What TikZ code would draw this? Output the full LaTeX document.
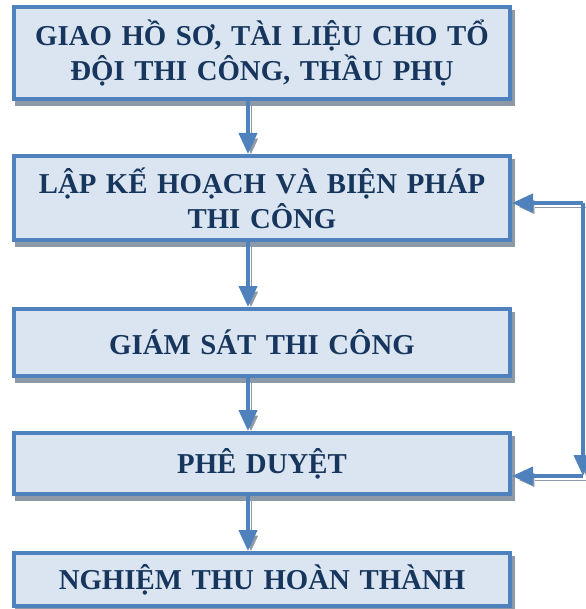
\documentclass[tikz,border=0pt]{standalone}
\usepackage{fontspec}
\setmainfont{Liberation Serif}
\usepackage{xcolor}
\usetikzlibrary{arrows.meta,shadows,calc}
\definecolor{boxblue}{HTML}{4F81BD}
\definecolor{boxfill}{HTML}{DBE5F1}
\definecolor{textblue}{HTML}{17365D}
\definecolor{shadowgray}{HTML}{8E99A8}

\begin{document}
\begin{tikzpicture}[x=0.5pt, y=-0.5pt, task node/.style={rectangle, draw=boxblue, fill=boxfill, line width=2pt, minimum width=248pt, text width=240pt, align=center, text=textblue, font=\bfseries\fontsize{14.4pt}{17.5pt}\selectfont, drop shadow={shadow xshift=1.5pt, shadow yshift=-2.5pt, fill=shadowgray, draw=shadowgray, line width=2pt, opacity=1}}, flow/.style={draw=boxblue, line width=2pt, -{Triangle[width=9pt, length=10.5pt]}, preaction={draw=shadowgray, transform canvas={xshift=1.5pt, yshift=-2pt}}}]
\useasboundingbox (0,0) rectangle (585,609);
\node[task node, minimum height=46pt] (1) at (262,53) {GIAO HỒ SƠ, TÀI LIỆU CHO TỔ\\ĐỘI THI CÔNG, THẦU PHỤ};
\node[task node, minimum height=42pt] (2) at (262,198) {LẬP KẾ HOẠCH VÀ BIỆN PHÁP\\THI CÔNG};
\node[task node, minimum height=33.5pt] (3) at (262,342.5) {GIÁM SÁT THI CÔNG};
\node[task node, minimum height=30.5pt] (4) at (262,463.5) {PHÊ DUYỆT};
\node[task node, minimum height=26.5pt] (5) at (262,579.5) {NGHIỆM THU HOÀN THÀNH};
\coordinate (a) at (248,0);
\coordinate (r1) at (583,203);
\coordinate (r2) at (583,476);
\foreach \i/\j in {1/2,2/3,3/4,4/5}
  \draw[flow] (\i.south -| a) -- (\j.north -| a);
\draw[flow] (r1) -- (2.east |- r1);
\draw[flow] (r1) -- (r2);
\draw[flow] (r2) -- (4.east |- r2);
\end{tikzpicture}
\end{document}
